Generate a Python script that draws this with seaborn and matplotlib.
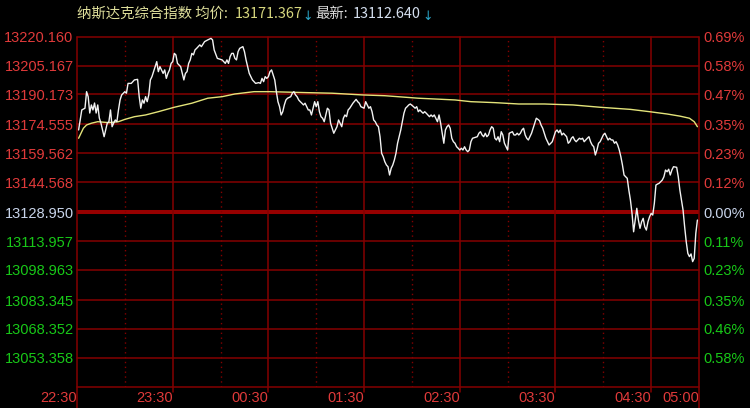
import matplotlib
matplotlib.use('Agg')
import matplotlib.pyplot as plt
import seaborn as sns
import pandas as pd

# header values
INDEX_NAME = '纳斯达克综合指数'
AVG_VALUE = '13171.367'
LAST_VALUE = '13112.640'
PREV_CLOSE = 13128.950

# minutes since 22:30 and last price
minute = [
    1, 2, 3, 5, 6, 7, 8, 9, 10, 11,
    12, 13, 14, 15, 16, 17, 19, 20, 21, 22,
    23, 24, 25, 26, 27, 28, 30, 31, 32, 34,
    36, 38, 39, 40, 41, 42, 43, 44, 45, 46,
    47, 49, 50, 51, 52, 53, 54, 55, 56, 57,
    58, 59, 60, 61, 62, 63, 65, 66, 67, 68,
    69, 70, 71, 72, 73, 74, 75, 77, 78, 80,
    82, 84, 85, 86, 88, 91, 92, 93, 94, 95,
    96, 97, 98, 99, 100, 101, 102, 104, 105, 106,
    107, 108, 110, 112, 114, 115, 116, 117, 118, 119,
    120, 121, 122, 123, 124, 125, 126, 127, 128, 129,
    130, 131, 132, 134, 135, 136, 137, 138, 139, 140,
    141, 142, 143, 144, 145, 146, 147, 148, 149, 150,
    151, 152, 153, 154, 155, 157, 158, 159, 160, 161,
    162, 163, 164, 165, 166, 167, 168, 169, 170, 171,
    173, 175, 176, 177, 178, 180, 181, 182, 183, 184,
    185, 186, 187, 188, 189, 190, 191, 192, 193, 194,
    195, 196, 197, 198, 199, 200, 201, 203, 204, 205,
    206, 207, 208, 209, 211, 212, 213, 214, 215, 216,
    217, 218, 219, 220, 221, 222, 223, 224, 225, 226,
    227, 228, 229, 230, 231, 232, 233, 234, 235, 236,
    237, 238, 239, 240, 241, 242, 243, 244, 245, 246,
    247, 248, 251, 252, 253, 254, 255, 256, 257, 258,
    259, 260, 261, 262, 263, 264, 265, 266, 267, 268,
    269, 270, 271, 273, 274, 275, 276, 277, 278, 279,
    280, 281, 282, 283, 284, 285, 286, 287, 288, 289,
    290, 291, 292, 293, 294, 296, 298, 299, 300, 301,
    302, 303, 304, 305, 306, 307, 308, 309, 310, 311,
    312, 313, 314, 315, 316, 317, 318, 320, 321, 322,
    323, 324, 325, 326, 327, 328, 329, 330, 331, 332,
    333, 334, 335, 336, 337, 338, 339, 340, 341, 342,
    343, 344, 345, 346, 347, 348, 349, 350, 351, 352,
    353, 354, 355, 356, 357, 358, 359, 360, 361, 362,
    363, 364, 365, 367, 368, 369, 370, 371, 372, 373,
    374, 376, 377, 378, 379, 380, 381, 382, 383, 384,
    385, 386, 387, 388, 389,
]
price = [
    13171.7, 13176.9, 13182.1, 13183.0, 13191.6, 13189.0, 13180.5, 13184.7, 13182.1, 13185.7,
    13180.5, 13184.7, 13177.9, 13175.3, 13171.7, 13168.2, 13175.3, 13176.0, 13182.1, 13173.4,
    13175.3, 13176.9, 13176.0, 13182.1, 13187.3, 13189.9, 13191.6, 13190.8, 13195.9, 13195.9,
    13197.7, 13198.0, 13189.0, 13183.0, 13187.3, 13185.6, 13189.0, 13186.4, 13189.9, 13197.7,
    13199.4, 13204.6, 13207.2, 13202.0, 13204.6, 13202.9, 13201.1, 13202.9, 13198.5, 13201.1,
    13202.9, 13206.3, 13207.2, 13211.5, 13210.7, 13206.3, 13204.6, 13201.1, 13197.7, 13201.1,
    13202.0, 13206.3, 13208.1, 13211.5, 13210.7, 13213.3, 13214.1, 13215.9, 13215.0, 13217.6,
    13218.5, 13219.3, 13218.5, 13213.3, 13208.9, 13208.1, 13207.2, 13206.3, 13208.1, 13206.3,
    13209.8, 13211.5, 13211.5, 13208.9, 13208.1, 13212.4, 13214.1, 13215.0, 13212.4, 13208.1,
    13204.6, 13201.1, 13197.7, 13195.9, 13196.3, 13195.9, 13198.5, 13196.8, 13199.4, 13198.5,
    13199.4, 13202.0, 13202.9, 13200.3, 13197.7, 13191.6, 13186.4, 13183.8, 13179.5, 13181.2,
    13184.7, 13187.3, 13188.2, 13189.0, 13190.8, 13191.6, 13189.9, 13189.0, 13187.3, 13186.4,
    13185.6, 13184.7, 13185.6, 13183.8, 13182.1, 13182.1, 13179.5, 13183.0, 13186.4, 13183.8,
    13186.4, 13181.2, 13178.6, 13177.8, 13176.0, 13183.0, 13182.1, 13175.2, 13172.6, 13170.0,
    13171.7, 13173.4, 13176.9, 13175.2, 13173.4, 13177.8, 13179.5, 13178.6, 13182.1, 13183.0,
    13185.6, 13187.6, 13186.4, 13185.6, 13183.8, 13183.0, 13186.4, 13184.7, 13183.0, 13183.8,
    13181.2, 13176.9, 13176.0, 13174.3, 13173.4, 13168.2, 13159.6, 13157.8, 13155.2, 13153.5,
    13152.6, 13148.3, 13151.8, 13153.5, 13156.1, 13159.6, 13164.8, 13171.7, 13176.0, 13180.4,
    13183.0, 13183.8, 13184.7, 13185.2, 13183.8, 13183.0, 13183.8, 13181.2, 13182.1, 13181.2,
    13180.4, 13181.2, 13180.4, 13179.5, 13178.6, 13179.5, 13178.6, 13179.5, 13177.8, 13176.0,
    13179.5, 13175.2, 13170.0, 13164.8, 13171.7, 13173.4, 13174.3, 13172.6, 13167.4, 13165.6,
    13164.8, 13163.0, 13162.2, 13161.3, 13162.2, 13161.3, 13163.0, 13161.3, 13160.4, 13161.3,
    13165.6, 13167.4, 13168.2, 13170.0, 13170.8, 13169.1, 13168.2, 13170.0, 13168.2, 13169.1,
    13171.7, 13173.4, 13172.6, 13167.4, 13166.5, 13168.2, 13165.6, 13170.8, 13169.1, 13164.8,
    13163.0, 13161.3, 13170.0, 13170.8, 13169.1, 13169.1, 13170.0, 13169.1, 13170.0, 13171.7,
    13172.6, 13169.1, 13167.4, 13166.5, 13168.2, 13170.0, 13172.6, 13175.2, 13177.8, 13177.2,
    13176.5, 13174.2, 13172.6, 13170.0, 13167.4, 13163.9, 13165.6, 13168.2, 13170.8, 13171.7,
    13170.3, 13171.7, 13169.1, 13170.0, 13169.1, 13168.2, 13164.8, 13165.6, 13167.4, 13168.2,
    13166.5, 13165.6, 13166.5, 13167.4, 13166.9, 13167.4, 13165.6, 13167.4, 13168.2, 13165.6,
    13163.9, 13163.0, 13158.7, 13161.3, 13164.8, 13165.6, 13167.4, 13169.1, 13170.0, 13168.2,
    13166.5, 13167.4, 13166.5, 13166.5, 13164.8, 13165.6, 13163.9, 13161.3, 13157.8, 13153.5,
    13148.3, 13147.4, 13146.6, 13140.5, 13135.3, 13128.4, 13118.8, 13124.9, 13131.0, 13124.9,
    13120.6, 13124.0, 13125.8, 13121.4, 13119.7, 13124.0, 13126.6, 13128.4, 13127.5, 13133.6,
    13143.1, 13143.6, 13144.0, 13145.7, 13147.4, 13150.9, 13150.0, 13151.3, 13148.3, 13150.9,
    13152.6, 13152.3, 13147.4, 13140.5, 13135.3, 13130.1, 13121.4, 13113.6, 13107.6, 13105.9,
    13107.3, 13103.3, 13105.0, 13118.0, 13124.9,
]

# average price line
avg_minute = [1, 4, 6, 9, 13, 20, 26, 30, 36, 43,
              51, 61, 72, 82, 91, 99, 111, 121, 144, 160,
              179, 193, 214, 237, 247, 262, 277, 293, 311, 328,
              347, 359, 370, 378, 384, 387, 389]
avg_price = [13167.4, 13172.6, 13174.3, 13175.2, 13176.0, 13175.5, 13176.0, 13177.2, 13178.6, 13179.5,
             13181.2, 13183.5, 13185.6, 13188.2, 13189.0, 13190.4, 13191.6, 13191.6, 13191.1, 13190.8,
             13189.9, 13189.5, 13188.2, 13187.3, 13186.4, 13185.9, 13185.2, 13185.2, 13184.7, 13183.5,
             13182.4, 13181.2, 13180.0, 13178.9, 13177.8, 13176.0, 13173.4]

y_ticks = [13220.160, 13205.167, 13190.173, 13174.555, 13159.562, 13144.568,
           13128.950, 13113.957, 13098.963, 13083.345, 13068.352, 13053.358]
pct_labels = ['0.69%', '0.58%', '0.47%', '0.35%', '0.23%', '0.12%',
              '0.00%', '0.11%', '0.23%', '0.35%', '0.46%', '0.58%']
hour_ticks = [0, 60, 120, 180, 240, 300, 360, 390]
hour_labels = ['22:30', '23:30', '00:30', '01:30', '02:30', '03:30', '04:30', '05:00']
half_ticks = [30, 90, 150, 210, 270, 330]

RED = '#e03a3a'
GREEN = '#18c818'
FLAT = '#c8d4ea'
GRID = '#840000'

sns.set_style('dark', {'axes.facecolor': 'black', 'figure.facecolor': 'black'})
plt.rcParams['font.family'] = ['Liberation Sans', 'Noto Sans CJK SC', 'DejaVu Sans']

df = pd.DataFrame({'minute': minute, 'price': price})
avg_df = pd.DataFrame({'minute': avg_minute, 'price': avg_price})

fig = plt.figure(figsize=(7.5, 4.08), dpi=100)
ax = fig.add_axes([77 / 750, 20.7 / 408, 622 / 750, 350.6 / 408])
ax.set_xlim(0, 390)
ax.set_ylim(13038.0, y_ticks[0])
ax.grid(False)

# grid
for v in y_ticks:
    if v == PREV_CLOSE:
        ax.axhline(v, color='#960000', lw=2.9, zorder=1)
    else:
        ax.axhline(v, color=GRID, lw=1.1, zorder=1, clip_on=False)
ax.axhline(13038.0, color=GRID, lw=1.1, zorder=1, clip_on=False)
xt = ax.get_xaxis_transform()
for t in hour_ticks[1:-1]:
    ax.plot([t, t], [-0.012, 1], transform=xt, color=GRID, lw=1.1, clip_on=False, zorder=1)
for t in [0, 390]:
    ax.plot([t, t], [-0.06, 1], transform=xt, color=GRID, lw=1.1, clip_on=False, zorder=1)
for t in half_ticks:
    ax.plot([t, t], [0, 1], transform=xt, color=GRID, lw=1.0, ls=(0, (1, 2.5)), zorder=1)

sns.lineplot(data=avg_df, x='minute', y='price', color='#e4e47a', lw=1.0, ax=ax,
             estimator=None, sort=False, zorder=3)
sns.lineplot(data=df, x='minute', y='price', color='#f2f2f2', lw=1.0, ax=ax,
             estimator=None, sort=False, zorder=4)
ax.set_xlabel('')
ax.set_ylabel('')


def tick_color(v):
    if v > PREV_CLOSE:
        return RED
    if v < PREV_CLOSE:
        return GREEN
    return FLAT


ax.set_yticks(y_ticks)
ax.set_yticklabels([f'{v:.3f}' for v in y_ticks])
ax.tick_params(axis='y', length=0, pad=2.5, labelsize=10.5)
for lab, v in zip(ax.get_yticklabels(), y_ticks):
    lab.set_color(tick_color(v))

ax.set_xticks(hour_ticks)
ax.set_xticklabels(hour_labels, ha='right')
ax.tick_params(axis='x', length=0, pad=3, labelsize=10.5, colors=RED)

ax2 = ax.twinx()
ax2.set_ylim(ax.get_ylim())
ax2.grid(False)
ax2.set_yticks(y_ticks)
ax2.set_yticklabels(pct_labels)
ax2.tick_params(axis='y', length=0, pad=3, labelsize=10.5)
for lab, v in zip(ax2.get_yticklabels(), y_ticks):
    lab.set_color(tick_color(v))

for a in (ax, ax2):
    for s in a.spines.values():
        s.set_visible(False)

# header
cjk = ['Noto Sans CJK SC', 'DejaVu Sans']
ty = 1 - 14 / 408
pieces = [
    (77, INDEX_NAME + ' 均价:', '#dede9a', cjk, 10.4),
    (235, AVG_VALUE, '#d6d67e', cjk, 10.4),
    (302, '↓', '#2aa6c8', ['DejaVu Sans'], 9),
    (315, '最新:', '#dadada', cjk, 10.4),
    (353, LAST_VALUE, '#d4deee', cjk, 10.4),
    (422, '↓', '#2aa6c8', ['DejaVu Sans'], 9),
]
for px, txt, col, fam, fs in pieces:
    yy = ty - (2 / 408 if txt == '↓' else 0)
    fig.text(px / 750, yy, txt, color=col, fontsize=fs, family=fam, va='center', ha='left')

fig.savefig('out.png', dpi=100, facecolor='black')
